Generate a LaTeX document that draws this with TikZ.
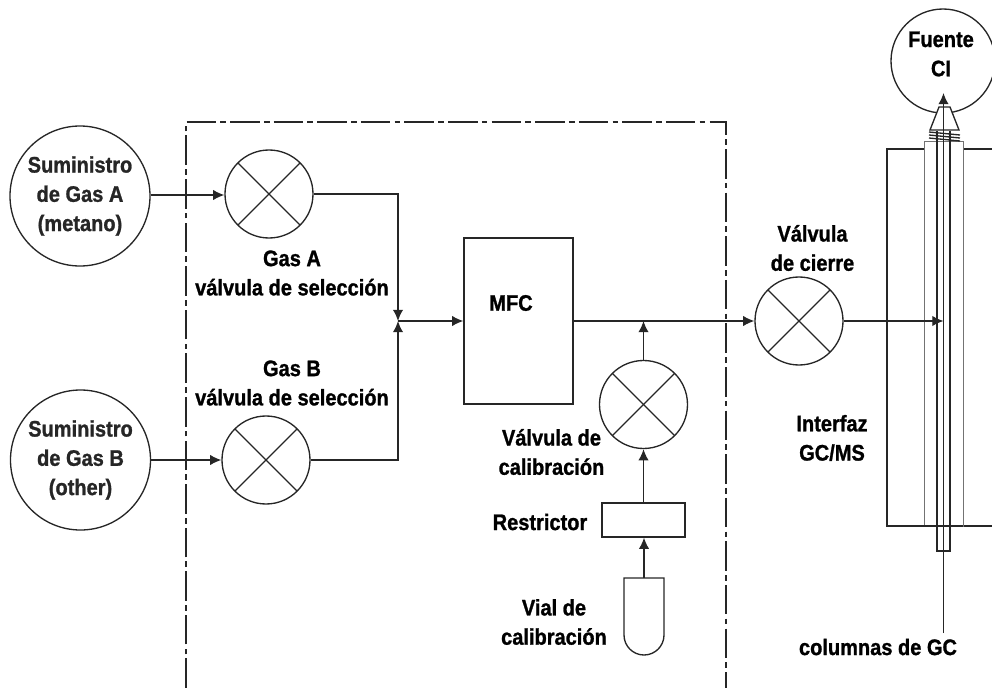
\documentclass[tikz,border=0pt]{standalone}
\usepackage{fontspec}
\setmainfont{Liberation Sans}[BoldFeatures={FakeStretch=0.89,FakeBold=1.1}]
\usepackage{tikz}
\usetikzlibrary{arrows.meta,calc,positioning}

\tikzset{
    line/.style={line width=0.95pt, black!85},
    flow/.style={line, -{Latex[length=2.8mm,width=2.6mm]}},
    gray line/.style={line width=0.6pt, black!55},
    label/.style={align=center, inner sep=0pt, font=\fontsize{16}{20.8}\selectfont\bfseries},
    supply/.style={draw, line, circle, minimum size=35mm, inner sep=0pt},
    valve/.style={draw, line, circle, minimum size=22mm, inner sep=0pt,
        path picture={
            \draw[line] (path picture bounding box.north west) -- (path picture bounding box.south east);
            \draw[line] (path picture bounding box.north east) -- (path picture bounding box.south west);
        }},
    block/.style={draw, line, rectangle, inner sep=0pt},
}

\begin{document}
\begin{tikzpicture}[x=0.25mm, y=-0.25mm]
    \path[use as bounding box, clip] (0,0) rectangle (992,688);

    % Caja del modulo
    \draw[line, line width=1pt, dash pattern=on 21pt off 3pt on 4pt off 3pt] (186,688) -- (186,122) -- (726,122) -- (726,688);

    % Suministros
    \node[supply, label] (supplyA) at (80,196) {Suministro\\de Gas A\\(metano)};
    \node[supply, label] (supplyB) at (80.5,460) {Suministro\\de Gas B\\(other)};

    % Valvulas
    \node[valve] (valveA) at (269,194) {};
    \node[valve] (valveB) at (266,460) {};
    \node[valve] (valveCal) at (643.5,404.5) {};
    \node[valve] (valveOff) at (799,321) {};

    % Bloques
    \node[block, minimum width=27.25mm, minimum height=41.5mm] (mfc) at (518.5,321) {};
    \node[label] (mfcText) at (511,303) {MFC};
    \node[block, minimum width=20.75mm, minimum height=8.5mm] (restrictor) at (643.5,520) {};
    \coordinate (junction) at (398,321);

    % Vial
    \draw[line] (624,578) -- (664,578) -- (664,635) arc (0:180:20) -- cycle;
    \coordinate (vialTop) at (644,578);

    % Interfaz
    \draw[line] (992,149) -- (887,149) -- (887,526) -- (992,526);
    \draw[gray line, fill=white] (924,526) rectangle (963,141);
    \draw[line] (924,526) -- (963,526);
    \draw[line] (937,131) -- (937,551) -- (950,551) -- (950,131);

    % Fuente
    \node[draw, line, circle, minimum size=26mm, inner sep=0pt] (source) at (943,61) {};
    \node[label] (sourceText) at (941,54) {Fuente\\CI};
    \draw[line, fill=white] (930,130) -- (939,107) -- (950,107) -- (959,130) -- cycle;
    \foreach \y in {132,135,138} {
        \draw[line] (929,\y) -- (960,\y+3);
    }
    \coordinate (columnEnd) at (943.5,633);
    \coordinate (columnTip) at (943.5,93);
    \draw[flow] (columnEnd) -- (columnTip);

    % Conexiones
    \draw[flow] (supplyA.east |- 0,195) -- (valveA.west |- 0,195);
    \draw[flow] (supplyB) -- (valveB);
    \draw[flow] (valveA) -| (junction);
    \draw[flow] (valveB) -| (junction);
    \draw[flow] (junction) -- (junction -| mfc.west);
    \draw[flow] (mfc.east |- valveOff) -- (valveOff);
    \draw[flow] (valveCal) -- (valveCal |- valveOff);
    \draw[flow] (vialTop) -- (vialTop |- restrictor.south);
    \draw[flow] (restrictor.north -| valveCal) -- (valveCal);
    \draw[flow] (valveOff) -- (valveOff -| columnEnd);

    % Etiquetas
    \node[label] (labelA) at (292,273) {Gas A\\válvula de selección};
    \node[label] (labelB) at (292,383) {Gas B\\válvula de selección};
    \node[label] (labelOff) at (812.5,248) {Válvula\\de cierre};
    \node[label] (labelCal) at (551.5,452) {Válvula de\\calibración};
    \node[label] (labelRes) at (540,522) {Restrictor};
    \node[label] (labelVial) at (554,622) {Vial de\\calibración};
    \node[label] (labelIface) at (832,438) {Interfaz\\GC/MS};
    \node[label] (labelCol) at (878,647) {columnas de GC};
\end{tikzpicture}
\end{document}
